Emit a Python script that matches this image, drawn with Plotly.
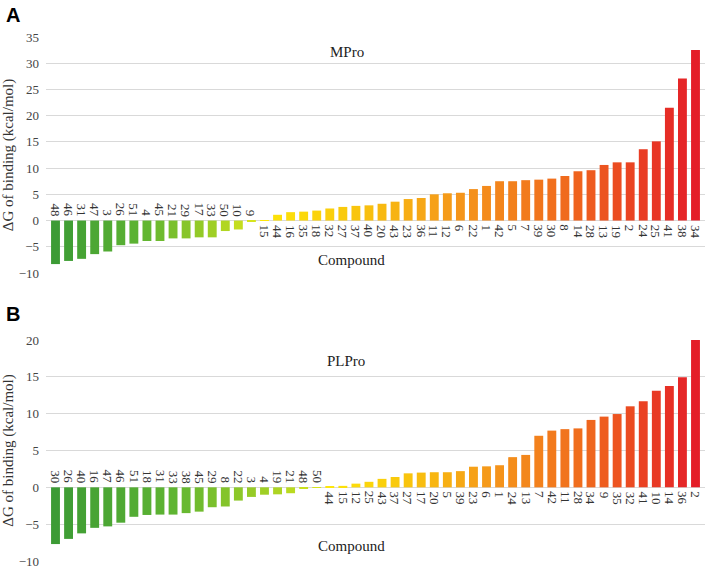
import plotly.graph_objects as go

# ---- Data: panel A (MPro) ----
mpro_compounds = ["48", "46", "31", "47", "3", "26", "51", "4", "45", "21", "29", "17", "33", "50", "10", "9",
                  "15", "44", "16", "35", "18", "32", "27", "37", "40", "20", "43", "23", "36", "11", "12", "6",
                  "22", "1", "42", "5", "7", "39", "30", "8", "14", "28", "13", "19", "2", "24", "25", "41", "38", "34"]
mpro_dg = [-8.3, -7.7, -7.3, -6.4, -5.9, -4.7, -4.4, -3.9, -3.9, -3.4, -3.4, -3.2, -3.2, -2.0, -1.7, -0.1,
           0.1, 1.1, 1.6, 1.7, 1.9, 2.3, 2.6, 2.8, 2.9, 3.2, 3.6, 4.1, 4.3, 5.0, 5.2, 5.3,
           6.0, 6.6, 7.5, 7.5, 7.7, 7.8, 8.0, 8.5, 9.4, 9.6, 10.6, 11.1, 11.1, 13.6, 15.1, 21.5, 27.1, 32.5]

# ---- Data: panel B (PLPro) ----
plpro_compounds = ["30", "26", "40", "16", "47", "46", "51", "18", "31", "33", "38", "45", "29", "8", "22", "3",
                   "4", "19", "21", "48", "50", "44", "15", "12", "25", "43", "37", "27", "17", "20", "5", "39",
                   "23", "6", "1", "24", "13", "7", "42", "11", "28", "34", "9", "35", "32", "41", "10", "14", "36", "2"]
plpro_dg = [-7.7, -7.0, -6.25, -5.5, -5.3, -4.8, -4.0, -3.75, -3.7, -3.7, -3.5, -3.3, -2.7, -2.6, -1.8, -1.3,
            -1.0, -0.95, -0.8, -0.1, -0.05, 0.15, 0.2, 0.5, 0.75, 1.15, 1.4, 1.9, 2.0, 2.05, 2.05, 2.2,
            2.8, 2.85, 3.0, 4.1, 4.4, 7.0, 7.7, 7.9, 8.0, 9.15, 9.6, 9.95, 11.0, 11.7, 13.1, 13.75, 14.95, 20.1]

mpro_ticks = [-10, -5, 0, 5, 10, 15, 20, 25, 30, 35]
plpro_ticks = [-10, -5, 0, 5, 10, 15, 20]

SERIF = "Liberation Serif"


def hex2rgb(h):
    h = h.lstrip("#")
    return [int(h[i:i + 2], 16) for i in (0, 2, 4)]


def interp(stops, t):
    for i in range(len(stops) - 1):
        t0, c0 = stops[i]
        t1, c1 = stops[i + 1]
        if t <= t1:
            f = 0 if t1 == t0 else (t - t0) / (t1 - t0)
            a, b = hex2rgb(c0), hex2rgb(c1)
            return "rgb(%d,%d,%d)" % tuple(round(a[k] + (b[k] - a[k]) * f) for k in range(3))
    return stops[-1][1]


NEG_STOPS = [(0.0, "#3c9b35"), (0.45, "#5fb532"), (0.8, "#9fcf25"), (1.0, "#d6e41c")]
POS_STOPS = [(0.0, "#fde60a"), (0.2, "#f9c70c"), (0.45, "#f5961b"), (0.7, "#f06a1d"), (1.0, "#e41e28")]


def bar_colors(values):
    neg = [i for i, v in enumerate(values) if v < 0]
    pos = [i for i, v in enumerate(values) if v >= 0]
    cols = [None] * len(values)
    for k, i in enumerate(neg):
        cols[i] = interp(NEG_STOPS, k / max(len(neg) - 1, 1))
    for k, i in enumerate(pos):
        cols[i] = interp(POS_STOPS, k / max(len(pos) - 1, 1))
    return cols


fig = go.Figure()

panels = [
    (mpro_compounds, mpro_dg, "x", "y"),
    (plpro_compounds, plpro_dg, "x2", "y2"),
]

annotations = []
for cats, vals, xa, ya in panels:
    fig.add_trace(go.Bar(x=cats, y=vals, xaxis=xa, yaxis=ya,
                         marker=dict(color=bar_colors(vals), line=dict(width=0)),
                         showlegend=False, hoverinfo="x+y"))
    # category label next to the zero line, on the side opposite the bar
    # (x given as category index, since numeric-looking strings are read as indices)
    for i, (c, v) in enumerate(zip(cats, vals)):
        annotations.append(dict(
            x=i, y=0, xref=xa, yref=ya, text=c, showarrow=False, textangle=90,
            yanchor="bottom" if v < 0 else "top", xanchor="center",
            yshift=2 if v < 0 else -2,
            font=dict(family=SERIF, size=13, color="#333333")))


def paper_text(text, px, py, size, family=SERIF, color="#222222"):
    return dict(text=text, x=px / 714, y=1 - py / 569, xref="paper", yref="paper",
                showarrow=False, xanchor="center", yanchor="middle",
                font=dict(family=family, size=size, color=color))


annotations += [
    paper_text("MPro", 347, 52, 15),
    paper_text("Compound", 351, 260, 15),
    paper_text("PLPro", 346, 361, 15),
    paper_text("Compound", 351, 546, 15),
    paper_text("<b>A</b>", 13, 15, 20, family="Liberation Sans", color="#000000"),
    paper_text("<b>B</b>", 13, 314, 20, family="Liberation Sans", color="#000000"),
]

xdom = [46 / 714, 705 / 714]
axis_common = dict(showgrid=True, gridcolor="#d9d9d9", gridwidth=1, showline=False, ticks="",
                   zeroline=True, zerolinecolor="#d9d9d9", zerolinewidth=1, automargin=False,
                   ticklabelstandoff=6,
                   tickfont=dict(family=SERIF, size=13, color="#444444"))
title_font = dict(family=SERIF, size=15, color="#333333")
xcommon = dict(type="category", showticklabels=False, showgrid=False, showline=False,
               ticks="", zeroline=False, domain=xdom, automargin=False)

fig.update_layout(
    width=714, height=569,
    margin=dict(l=0, r=0, t=0, b=0),
    paper_bgcolor="white", plot_bgcolor="white",
    bargap=0.32,
    xaxis=dict(anchor="y", **xcommon),
    xaxis2=dict(anchor="y2", **xcommon),
    yaxis=dict(domain=[1 - 273 / 569, 1 - 37 / 569], range=[-10, 35], tickvals=mpro_ticks,
               title=dict(text="ΔG of binding (kcal/mol)", font=title_font, standoff=4),
               **axis_common),
    yaxis2=dict(domain=[1 - 561 / 569, 1 - 340 / 569], range=[-10, 20], tickvals=plpro_ticks,
                title=dict(text="ΔG of binding (kcal/mol)", font=title_font, standoff=4),
                **axis_common),
    annotations=annotations,
)

fig.write_html("out.html", config={"displayModeBar": False},
               post_script="document.body.style.margin='0';document.body.style.overflow='hidden';")
